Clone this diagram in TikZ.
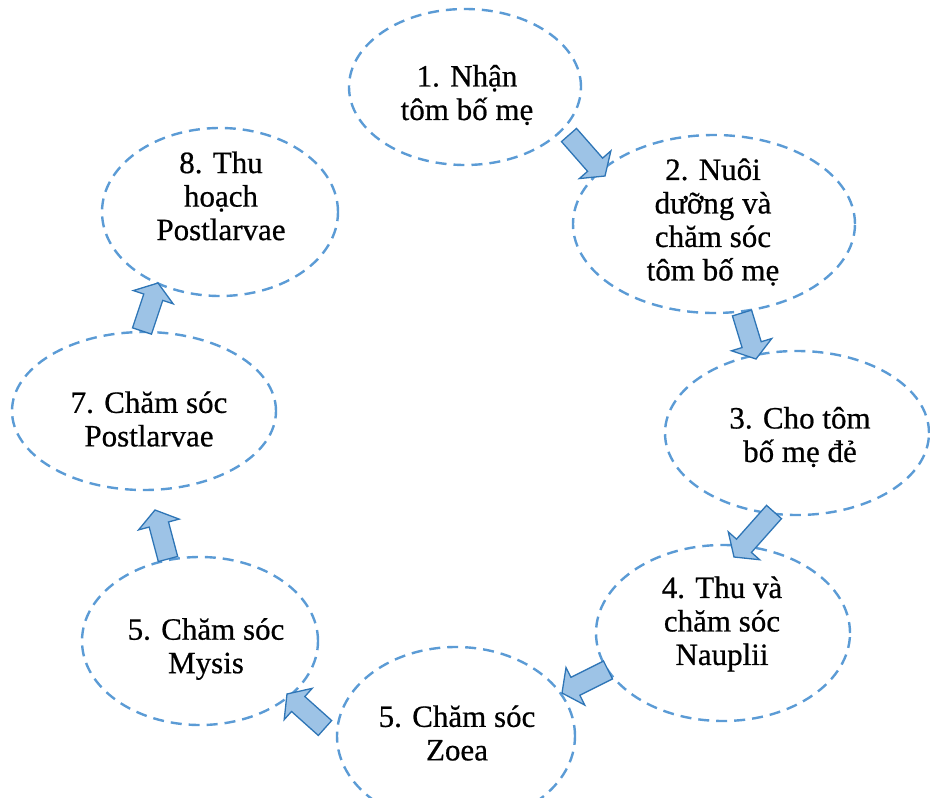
\documentclass[tikz,border=0pt]{standalone}
\usepackage{fontspec}
\setmainfont{Liberation Serif}[FakeBold=0.6]
\usetikzlibrary{shapes.geometric,calc}
\definecolor{dashblue}{HTML}{5B9BD5}
\definecolor{arrowfill}{HTML}{9DC3E6}
\definecolor{arrowline}{HTML}{2E75B6}

% block arrow from tail centre #1 to tip #2
\newcommand\blockarrow[2]{%
  \path ($(#2)!15pt!(#1)$) coordinate (bb);
  \draw[barrow] ($(#1)!10pt!90:(#2)$) -- ($(bb)!10pt!-90:(#1)$)
    -- ($(bb)!21pt!-90:(#1)$) -- (#2) -- ($(bb)!21pt!90:(#1)$)
    -- ($(bb)!10pt!90:(#1)$) -- ($(#1)!10pt!-90:(#2)$) -- cycle;
}

\begin{document}
\begin{tikzpicture}[x=1pt,y=-1pt,
  stage/.style={ellipse, draw=dashblue, line width=2.4pt,
    dash pattern=on 11pt off 7pt, inner sep=0pt},
  stagetext/.style={align=center, font=\fontsize{31}{33.5}\selectfont,
    text=black, inner sep=0pt},
  barrow/.style={fill=arrowfill, draw=arrowline, line width=1.3pt,
    line join=miter}]

\useasboundingbox (0,0) rectangle (930,798);
\clip (0,0) rectangle (930,798);

% stages
\node[stage, minimum width=232pt, minimum height=156pt] (e1) at (465,87) {};
\node[stage, minimum width=282pt, minimum height=178pt] (e2) at (714,224) {};
\node[stage, minimum width=264pt, minimum height=164pt] (e3) at (797,433) {};
\node[stage, minimum width=254pt, minimum height=176pt] (e4) at (723,633) {};
\node[stage, minimum width=238pt, minimum height=178pt] (e5) at (456,736) {};
\node[stage, minimum width=236pt, minimum height=168pt] (e6) at (200,641) {};
\node[stage, minimum width=264pt, minimum height=158pt] (e7) at (144,411) {};
\node[stage, minimum width=236pt, minimum height=168pt] (e8) at (220,212) {};

% labels
\node[stagetext] (t1) at (467,95) {1. Nhận\\tôm bố mẹ};
\node[stagetext] (t2) at (713,222) {2. Nuôi\\dưỡng và\\chăm sóc\\tôm bố mẹ};
\node[stagetext] (t3) at (800,437) {3. Cho tôm\\bố mẹ đẻ};
\node[stagetext] (t4) at (722,624) {4. Thu và\\chăm sóc\\Nauplii};
\node[stagetext] (t5) at (457,733) {5. Chăm sóc\\Zoea};
\node[stagetext] (t6) at (206,649) {5. Chăm sóc\\Mysis};
\node[stagetext] (t7) at (149,419) {7. Chăm sóc\\Postlarvae};
\node[stagetext] (t8) at (221,196) {8. Thu\\hoạch\\Postlarvae};

% arrow ends
\coordinate (a12s) at (569,135); \coordinate (a12e) at (605,176);
\coordinate (a23s) at (742,313); \coordinate (a23e) at (756,359);
\coordinate (a34s) at (774,512); \coordinate (a34e) at (734,557);
\coordinate (a45s) at (608,670); \coordinate (a45e) at (562,693);
\coordinate (a56s) at (325,728); \coordinate (a56e) at (287,694);
\coordinate (a67s) at (168,559); \coordinate (a67e) at (155,510);
\coordinate (a78s) at (142,331); \coordinate (a78e) at (158,283);

\blockarrow{a12s}{a12e}
\blockarrow{a23s}{a23e}
\blockarrow{a34s}{a34e}
\blockarrow{a45s}{a45e}
\blockarrow{a56s}{a56e}
\blockarrow{a67s}{a67e}
\blockarrow{a78s}{a78e}
\end{tikzpicture}
\end{document}
